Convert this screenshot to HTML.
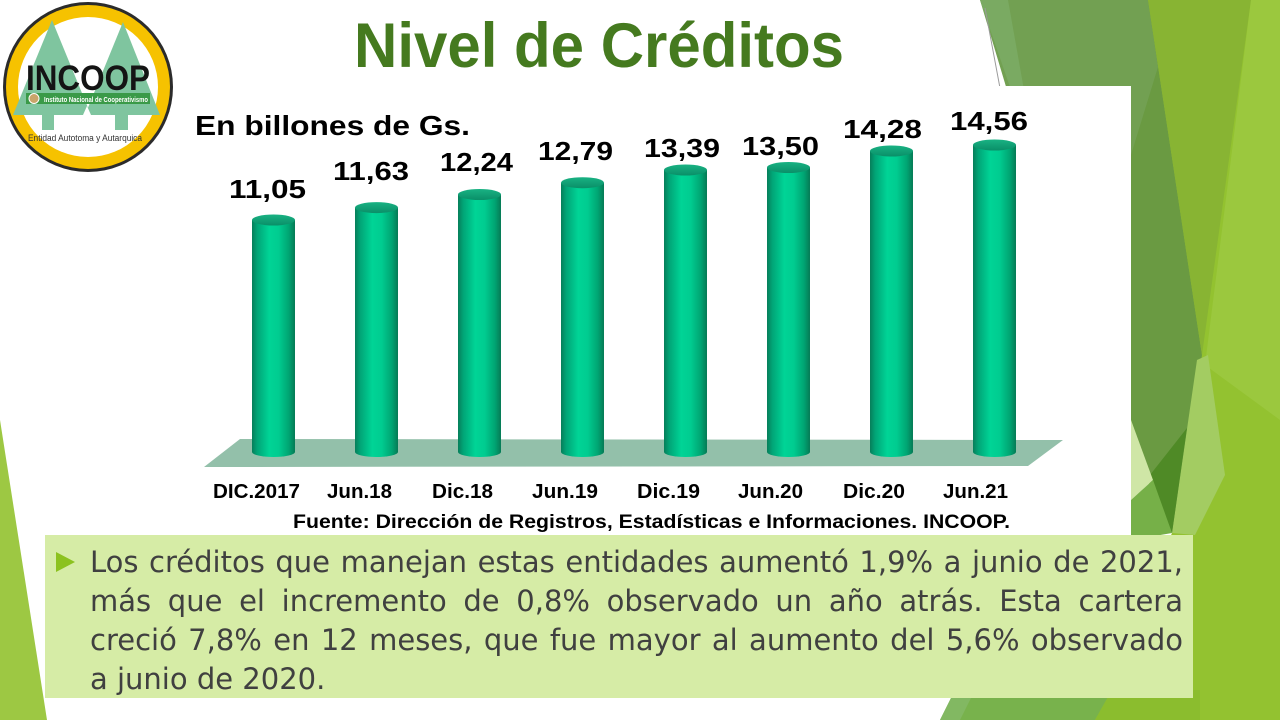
<!DOCTYPE html>
<html><head><meta charset="utf-8">
<style>
html,body{margin:0;padding:0;background:#fff;}
#wrap{position:relative;width:1280px;height:720px;overflow:hidden;background:#fff;}
svg{position:absolute;left:0;top:0;}
#box{position:absolute;left:45px;top:535px;width:1148px;height:163px;background:#d6eca6;}
#txt{position:absolute;left:90px;top:542.5px;width:1093px;font-family:"DejaVu Sans","Liberation Sans",sans-serif;font-size:29px;line-height:39.3px;color:#404040;}
#txt div{text-align:justify;text-align-last:justify;height:39.3px;white-space:normal;}
#txt div.last{text-align:left;text-align-last:left;}
#bullet{position:absolute;left:56px;top:552px;width:0;height:0;border-top:10.5px solid transparent;border-bottom:10.5px solid transparent;border-left:19px solid #8cc21f;}
</style></head>
<body><div id="wrap">
<svg width="1280" height="720" viewBox="0 0 1280 720" xmlns="http://www.w3.org/2000/svg">
<defs>
<linearGradient id="cyl" x1="0" x2="1" y1="0" y2="0">
<stop offset="0" stop-color="#077e5a"/>
<stop offset="0.12" stop-color="#01a476"/>
<stop offset="0.4" stop-color="#00d496"/>
<stop offset="0.62" stop-color="#00cc90"/>
<stop offset="0.86" stop-color="#00a472"/>
<stop offset="1" stop-color="#067a55"/>
</linearGradient>
<linearGradient id="topc" x1="0" x2="0" y1="0" y2="1">
<stop offset="0" stop-color="#19b283"/>
<stop offset="1" stop-color="#0a8f68"/>
</linearGradient>
</defs>
<!-- background shapes -->
<polygon points="1140,0 1280,0 1280,720 1090,720 1172,533" fill="#93c230"/>
<polygon points="1100,0 1148,0 1202,355 1172,533 1120,420 1100,300" fill="#6a9a42"/>
<polygon points="980,0 1148,0 1158,67 1131,155 1100,200 1040,200" fill="#72a052"/>
<polygon points="980,0 1008,0 1024,90 1011,90" fill="#7aaa62"/>
<line x1="985" y1="8" x2="1000" y2="88" stroke="#9a9a9a" stroke-width="1"/>
<polygon points="1148,0 1251,0 1202,355" fill="#88b433"/>
<polygon points="1251,0 1280,0 1280,420 1205,365" fill="#9bc83e"/>
<polygon points="1197,360 1208,355 1225,475 1195,535 1172,533" fill="#a3cc62"/>
<polygon points="1150,475 1187,428 1172,533" fill="#4f8a26"/>
<polygon points="1131,420 1153,480 1131,500" fill="#cfe6a6"/>
<polygon points="1131,500 1153,480 1172,533 1131,540" fill="#76b048"/>
<polygon points="955,690 1112,690 1095,720 940,720" fill="#78b24c"/>
<polygon points="955,690 975,690 960,720 940,720" fill="#82b862"/>
<polygon points="1095,720 1112,690 1200,690 1200,720" fill="#8bbd2e"/>
<polygon points="0,420 47,720 0,720" fill="#9dc843"/>
<!-- white panel -->
<rect x="180" y="86" width="951" height="449" fill="#fff"/>

<!-- logo -->
<circle cx="88" cy="87" r="85" fill="#2b2b2b"/>
<circle cx="88" cy="87" r="82" fill="#f6c200"/>
<circle cx="88" cy="87" r="70" fill="#fff"/>
<polygon points="52,20 91,115 13,115" fill="#7fc59f"/>
<polygon points="123,22 160,115 85,115" fill="#7fc59f"/>
<polygon points="83,115 87,106 91,115" fill="#fff"/>
<rect x="42" y="112" width="12" height="18" fill="#7fc59f"/>
<rect x="115" y="112" width="13" height="18" fill="#7fc59f"/>
<text x="26" y="90" font-family="Liberation Sans, sans-serif" font-weight="bold" font-size="35" fill="#141414" textLength="124" lengthAdjust="spacingAndGlyphs">INCOOP</text>
<rect x="26" y="93" width="124" height="11" fill="#3a9a48"/>
<circle cx="34" cy="98.5" r="5" fill="#c9a56a" stroke="#fff" stroke-width="1"/>
<text x="44" y="102" font-family="Liberation Sans, sans-serif" font-weight="bold" font-size="7" fill="#fff" textLength="104" lengthAdjust="spacingAndGlyphs">Instituto Nacional de Cooperativismo</text>
<text x="28" y="141" font-family="Liberation Sans, sans-serif" font-size="9" fill="#333" textLength="114" lengthAdjust="spacingAndGlyphs">Entidad Autotoma y Autarquica</text>

<!-- title -->
<text x="354" y="67" font-family="Liberation Sans, sans-serif" font-weight="bold" font-size="63" fill="#457a1f" textLength="490" lengthAdjust="spacingAndGlyphs">Nivel de Créditos</text>

<!-- subtitle -->
<text x="195" y="135" font-family="Liberation Sans, sans-serif" font-weight="bold" font-size="28" fill="#000" textLength="275" lengthAdjust="spacingAndGlyphs">En billones de Gs.</text>

<!-- floor -->
<polygon points="240,439 1063,440 1028,466 204,467" fill="#93c0aa"/>

<!-- bars -->
<g>
<rect x="252" y="220" width="43" height="232" fill="url(#cyl)"/><ellipse cx="273.5" cy="452" rx="21.5" ry="5" fill="url(#cyl)"/><ellipse cx="273.5" cy="220" rx="21.5" ry="5.5" fill="url(#topc)"/>
<rect x="355" y="207.6" width="43" height="244.4" fill="url(#cyl)"/><ellipse cx="376.5" cy="452" rx="21.5" ry="5" fill="url(#cyl)"/><ellipse cx="376.5" cy="207.6" rx="21.5" ry="5.5" fill="url(#topc)"/>
<rect x="458" y="194.5" width="43" height="257.5" fill="url(#cyl)"/><ellipse cx="479.5" cy="452" rx="21.5" ry="5" fill="url(#cyl)"/><ellipse cx="479.5" cy="194.5" rx="21.5" ry="5.5" fill="url(#topc)"/>
<rect x="561" y="182.7" width="43" height="269.3" fill="url(#cyl)"/><ellipse cx="582.5" cy="452" rx="21.5" ry="5" fill="url(#cyl)"/><ellipse cx="582.5" cy="182.7" rx="21.5" ry="5.5" fill="url(#topc)"/>
<rect x="664" y="170" width="43" height="282" fill="url(#cyl)"/><ellipse cx="685.5" cy="452" rx="21.5" ry="5" fill="url(#cyl)"/><ellipse cx="685.5" cy="170" rx="21.5" ry="5.5" fill="url(#topc)"/>
<rect x="767" y="167.5" width="43" height="284.5" fill="url(#cyl)"/><ellipse cx="788.5" cy="452" rx="21.5" ry="5" fill="url(#cyl)"/><ellipse cx="788.5" cy="167.5" rx="21.5" ry="5.5" fill="url(#topc)"/>
<rect x="870" y="151" width="43" height="301" fill="url(#cyl)"/><ellipse cx="891.5" cy="452" rx="21.5" ry="5" fill="url(#cyl)"/><ellipse cx="891.5" cy="151" rx="21.5" ry="5.5" fill="url(#topc)"/>
<rect x="973" y="145" width="43" height="307" fill="url(#cyl)"/><ellipse cx="994.5" cy="452" rx="21.5" ry="5" fill="url(#cyl)"/><ellipse cx="994.5" cy="145" rx="21.5" ry="5.5" fill="url(#topc)"/>
</g>

<!-- value labels -->
<g font-family="Liberation Sans, sans-serif" font-weight="bold" font-size="26" fill="#000">
<text x="229" y="198" textLength="77" lengthAdjust="spacingAndGlyphs">11,05</text>
<text x="333" y="180" textLength="76" lengthAdjust="spacingAndGlyphs">11,63</text>
<text x="440" y="171" textLength="73" lengthAdjust="spacingAndGlyphs">12,24</text>
<text x="538" y="160" textLength="75" lengthAdjust="spacingAndGlyphs">12,79</text>
<text x="644" y="157" textLength="76" lengthAdjust="spacingAndGlyphs">13,39</text>
<text x="742" y="155" textLength="77" lengthAdjust="spacingAndGlyphs">13,50</text>
<text x="843" y="138" textLength="79" lengthAdjust="spacingAndGlyphs">14,28</text>
<text x="950" y="130" textLength="78" lengthAdjust="spacingAndGlyphs">14,56</text>
</g>

<!-- category labels -->
<g font-family="Liberation Sans, sans-serif" font-weight="bold" font-size="20" fill="#000">
<text x="213" y="498" textLength="87" lengthAdjust="spacingAndGlyphs">DIC.2017</text>
<text x="327" y="498" textLength="65" lengthAdjust="spacingAndGlyphs">Jun.18</text>
<text x="432" y="498" textLength="61" lengthAdjust="spacingAndGlyphs">Dic.18</text>
<text x="532" y="498" textLength="66" lengthAdjust="spacingAndGlyphs">Jun.19</text>
<text x="637" y="498" textLength="63" lengthAdjust="spacingAndGlyphs">Dic.19</text>
<text x="738" y="498" textLength="65" lengthAdjust="spacingAndGlyphs">Jun.20</text>
<text x="843" y="498" textLength="62" lengthAdjust="spacingAndGlyphs">Dic.20</text>
<text x="943" y="498" textLength="65" lengthAdjust="spacingAndGlyphs">Jun.21</text>
</g>
<text x="293" y="528" font-family="Liberation Sans, sans-serif" font-weight="bold" font-size="19" fill="#000" textLength="717" lengthAdjust="spacingAndGlyphs">Fuente: Dirección de Registros, Estadísticas e Informaciones. INCOOP.</text>
</svg>
<div id="box"></div>
<div id="bullet"></div>
<div id="txt">
<div>Los créditos que manejan estas entidades aumentó 1,9% a junio de 2021,</div>
<div>más que el incremento de 0,8% observado un año atrás. Esta cartera</div>
<div>creció 7,8% en 12 meses, que fue mayor al aumento del 5,6% observado</div>
<div class="last">a junio de 2020.</div>
</div>
</div></body></html>
